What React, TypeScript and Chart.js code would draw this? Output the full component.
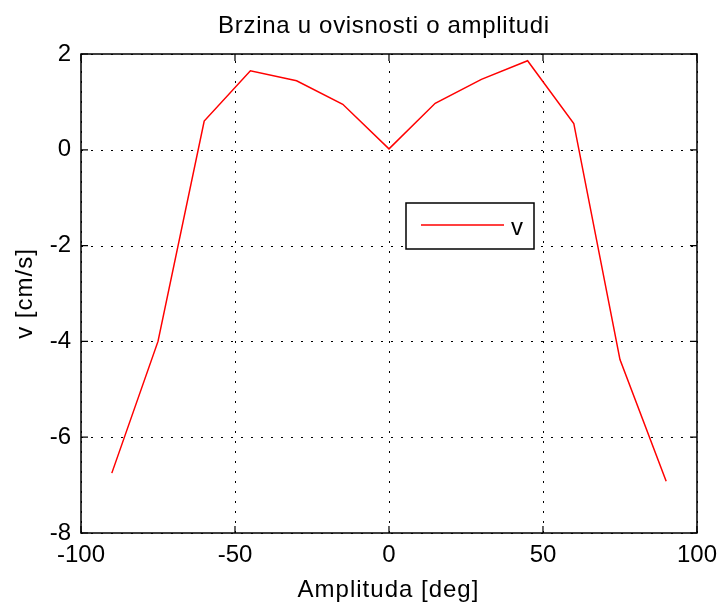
import React, { useEffect, useRef } from "react";
import { Chart, registerables } from "chart.js";

Chart.register(...registerables);

const amplitudes = [-90, -75, -60, -45, -30, -15, 0, 15, 30, 45, 60, 75, 90];
const velocities = [-6.75, -4.0, 0.6, 1.65, 1.44, 0.95, 0.02, 0.97, 1.47, 1.86, 0.55, -4.38, -6.92];
const xTicks = [-100, -50, 0, 50, 100];
const yTicks = [-8, -6, -4, -2, 0, 2];
const chartTitle = "Brzina u ovisnosti o amplitudi";
const xTitle = "Amplituda [deg]";
const yTitle = "v [cm/s]";
const seriesLabel = "v";

const FAMILY = '"Liberation Sans", Arial, sans-serif';
const FONT = `24px ${FAMILY}`;

const gridPlugin = {
  id: "matlabGrid",
  beforeDatasetsDraw(chart: any) {
    const { ctx, chartArea: a, scales } = chart;
    ctx.save();
    ctx.strokeStyle = "#000";
    ctx.lineWidth = 1;
    ctx.setLineDash([2, 8]);
    for (const v of xTicks) {
      const px = Math.round(scales.x.getPixelForValue(v)) + 0.5;
      ctx.beginPath();
      ctx.moveTo(px, a.bottom);
      ctx.lineTo(px, a.top);
      ctx.stroke();
    }
    for (const v of yTicks) {
      const py = Math.round(scales.y.getPixelForValue(v)) + 0.5;
      ctx.beginPath();
      ctx.moveTo(a.left, py);
      ctx.lineTo(a.right, py);
      ctx.stroke();
    }
    ctx.restore();
  },
};

const decorPlugin = {
  id: "matlabDecor",
  afterDraw(chart: any) {
    const { ctx, chartArea: a, scales } = chart;
    const xs = scales.x;
    const ys = scales.y;
    ctx.save();
    ctx.setLineDash([]);
    ctx.strokeStyle = "#000";
    ctx.lineWidth = 1.5;
    ctx.strokeRect(a.left, a.top, a.right - a.left, a.bottom - a.top);

    const tl = 7;
    ctx.lineWidth = 1.2;
    ctx.beginPath();
    for (const v of xTicks) {
      const px = xs.getPixelForValue(v);
      ctx.moveTo(px, a.bottom);
      ctx.lineTo(px, a.bottom - tl);
      ctx.moveTo(px, a.top);
      ctx.lineTo(px, a.top + tl);
    }
    for (const v of yTicks) {
      const py = ys.getPixelForValue(v);
      ctx.moveTo(a.left, py);
      ctx.lineTo(a.left + tl, py);
      ctx.moveTo(a.right, py);
      ctx.lineTo(a.right - tl, py);
    }
    ctx.stroke();

    ctx.fillStyle = "#000";
    ctx.font = FONT;
    ctx.textAlign = "center";
    ctx.textBaseline = "alphabetic";
    const cx = (a.left + a.right) / 2;
    (ctx as any).letterSpacing = "0.7px";
    ctx.fillText(chartTitle, cx - 5, a.top - 21);
    (ctx as any).letterSpacing = "1px";
    ctx.fillText(xTitle, cx - 0.5, a.bottom + 64);
    ctx.save();
    ctx.translate(a.left - 49.5, (a.top + a.bottom) / 2);
    ctx.rotate(-Math.PI / 2);
    ctx.fillText(yTitle, 0, 0);
    ctx.restore();
    (ctx as any).letterSpacing = "0px";

    // legend
    const bx = a.left + 325;
    const by = a.top + 149;
    const bw = 128;
    const bh = 46;
    ctx.fillStyle = "#fff";
    ctx.fillRect(bx, by, bw, bh);
    ctx.strokeStyle = "#000";
    ctx.lineWidth = 1.5;
    ctx.strokeRect(bx, by, bw, bh);
    ctx.strokeStyle = "#ff0000";
    ctx.lineWidth = 1.5;
    ctx.beginPath();
    ctx.moveTo(bx + 15, by + 22);
    ctx.lineTo(bx + 98, by + 22);
    ctx.stroke();
    ctx.fillStyle = "#000";
    ctx.textAlign = "left";
    ctx.fillText(seriesLabel, bx + 105, by + 32);
    ctx.restore();
  },
};

export default function App() {
  const canvasRef = useRef<HTMLCanvasElement | null>(null);

  useEffect(() => {
    const canvas = canvasRef.current;
    if (!canvas) return;
    const chart = new Chart(canvas, {
      type: "line",
      data: {
        datasets: [
          {
            label: seriesLabel,
            data: amplitudes.map((x, i) => ({ x, y: velocities[i] })),
            borderColor: "#ff0000",
            borderWidth: 1.5,
            pointRadius: 0,
            tension: 0,
            fill: false,
          },
        ],
      },
      options: {
        animation: false,
        responsive: false,
        devicePixelRatio: 1,
        layout: { padding: { top: 54, right: 22, left: 0, bottom: 0 } },
        plugins: {
          legend: { display: false },
          title: { display: false },
          tooltip: { enabled: false },
        },
        scales: {
          x: {
            type: "linear",
            min: -100,
            max: 100,
            afterBuildTicks: (s: any) => {
              s.ticks = xTicks.map((value) => ({ value }));
            },
            afterFit: (s: any) => {
              s.height = 73;
            },
            grid: { display: false, drawTicks: false },
            border: { display: false },
            ticks: {
              color: "#000",
              font: { family: FAMILY, size: 24 },
              padding: 8,
              maxRotation: 0,
              autoSkip: false,
            },
          },
          y: {
            type: "linear",
            min: -8,
            max: 2,
            afterBuildTicks: (s: any) => {
              s.ticks = yTicks.map((value) => ({ value }));
            },
            afterFit: (s: any) => {
              s.width = 81;
            },
            grid: { display: false, drawTicks: false },
            border: { display: false },
            ticks: {
              color: "#000",
              font: { family: FAMILY, size: 24 },
              padding: 10,
              autoSkip: false,
            },
          },
        },
      },
      plugins: [gridPlugin, decorPlugin],
    } as any);
    return () => chart.destroy();
  }, []);

  return (
    <div style={{ position: "fixed", left: 0, top: 0, width: 725, height: 606, background: "#fff" }}>
      <canvas ref={canvasRef} width={725} height={606} style={{ display: "block", width: 725, height: 606 }} />
    </div>
  );
}
